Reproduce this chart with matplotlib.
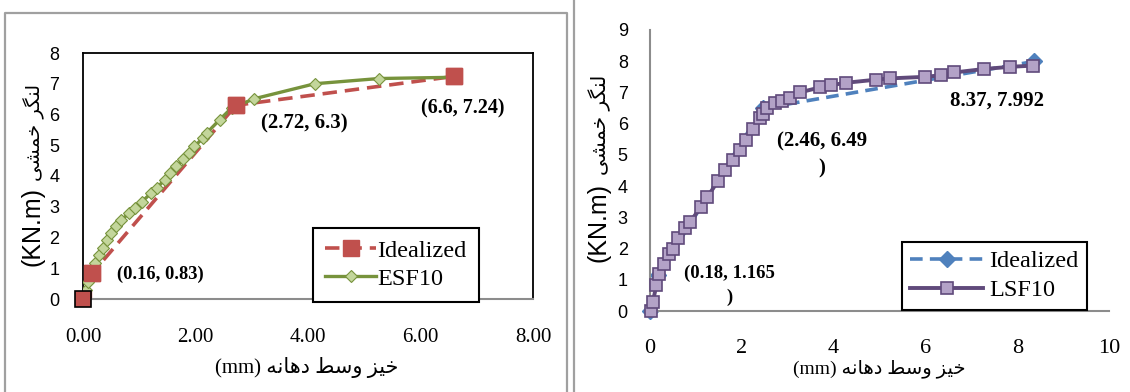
import matplotlib
matplotlib.use('Agg')
import matplotlib.pyplot as plt
from matplotlib.lines import Line2D

# ---- data ----
# left panel: ESF10
ideal_left_x = [0, 0.16, 2.72, 6.6]
ideal_left_y = [0, 0.83, 6.3, 7.24]
esf_x = [0.0, 0.02, 0.05, 0.09, 0.15, 0.22, 0.29, 0.35, 0.42, 0.50, 0.58, 0.68, 0.82,
         0.92, 1.05, 1.21, 1.31, 1.45, 1.55, 1.66, 1.78, 1.88, 1.98, 2.13, 2.20, 2.43,
         2.64, 3.04, 4.12, 5.26, 6.59]
esf_y = [0.0, 0.08, 0.29, 0.56, 0.84, 1.16, 1.43, 1.65, 1.92, 2.14, 2.36, 2.57, 2.79,
         2.95, 3.17, 3.44, 3.60, 3.88, 4.09, 4.31, 4.55, 4.74, 4.96, 5.23, 5.40, 5.83,
         6.21, 6.51, 7.00, 7.17, 7.21]

# right panel: LSF10
ideal_right_x = [0, 0.18, 2.46, 8.37]
ideal_right_y = [0, 1.165, 6.49, 7.992]
lsf_x = [0.02, 0.06, 0.14, 0.20, 0.31, 0.41, 0.51, 0.61, 0.76, 0.87, 1.11, 1.25, 1.48,
         1.64, 1.81, 1.95, 2.10, 2.24, 2.40, 2.46, 2.54, 2.73, 2.88, 3.06, 3.26, 3.70,
         3.94, 4.27, 4.93, 5.23, 5.99, 6.34, 6.63, 7.27, 7.84, 8.35]
lsf_y = [0.0, 0.29, 0.82, 1.18, 1.50, 1.84, 2.00, 2.34, 2.66, 2.85, 3.33, 3.65, 4.16,
         4.51, 4.83, 5.15, 5.49, 5.84, 6.19, 6.32, 6.49, 6.65, 6.73, 6.83, 7.00, 7.16,
         7.23, 7.31, 7.41, 7.45, 7.50, 7.55, 7.64, 7.75, 7.82, 7.86]

left_xticks = [0, 2, 4, 6, 8]
left_yticks = [0, 1, 2, 3, 4, 5, 6, 7, 8]
right_xticks = [0, 2, 4, 6, 8, 10]
right_yticks = [0, 1, 2, 3, 4, 5, 6, 7, 8, 9]

ylabel_fa = 'لنگر خمشی'
xlabel_fa = 'خیز وسط دهانه'

# minimal arabic/persian shaping (matplotlib has no text shaping)
FORMS = {
    'ل': '\uFEDD\uFEDE\uFEDF\uFEE0', 'ن': '\uFEE5\uFEE6\uFEE7\uFEE8',
    'گ': '\uFB92\uFB93\uFB94\uFB95', 'خ': '\uFEA5\uFEA6\uFEA7\uFEA8',
    'م': '\uFEE1\uFEE2\uFEE3\uFEE4', 'ش': '\uFEB5\uFEB6\uFEB7\uFEB8',
    'ی': '\uFBFC\uFBFD\uFBFE\uFBFF', 'س': '\uFEB1\uFEB2\uFEB3\uFEB4',
    'ط': '\uFEC1\uFEC2\uFEC3\uFEC4', 'ه': '\uFEE9\uFEEA\uFEEB\uFEEC',
    'ر': '\uFEAD\uFEAE', 'ز': '\uFEAF\uFEB0', 'و': '\uFEED\uFEEE',
    'د': '\uFEA9\uFEAA', 'ا': '\uFE8D\uFE8E',
}


def shape(text):
    out = []
    for i, ch in enumerate(text):
        if ch not in FORMS:
            out.append(ch)
            continue
        prev = text[i - 1] if i > 0 else ''
        nxt = text[i + 1] if i + 1 < len(text) else ''
        jp = prev in FORMS and len(FORMS[prev]) == 4
        jn = nxt in FORMS and len(FORMS[ch]) == 4
        f = FORMS[ch]
        if jp and jn:
            out.append(f[3])
        elif jp:
            out.append(f[1])
        elif jn:
            out.append(f[2])
        else:
            out.append(f[0])
    return ''.join(reversed(out))


serif = ['Liberation Serif', 'DejaVu Sans']
sans = ['Liberation Sans', 'DejaVu Sans']

red = '#C0504D'
green = '#77933C'
green_face = '#C3D69B'
blue = '#4F81BD'
purple = '#604A7B'
purple_face = '#B3A2C7'
axis_gray = '#8C8C8C'

W, H = 1130, 392
fig = plt.figure(figsize=(11.3, 3.92), dpi=100)


def ylabel_parts(xb, y_unit, y_fa, fs_unit, fs_fa):
    # rotated y label: latin unit and persian words drawn with their own sizes
    fig.text(xb / W, 1 - y_unit / H, '(KN.m)', family=sans, fontsize=fs_unit, rotation=90,
             rotation_mode='anchor', ha='center', va='baseline')
    fig.text(xb / W, 1 - y_fa / H, shape(ylabel_fa), family=['DejaVu Sans'], fontsize=fs_fa,
             rotation=90, rotation_mode='anchor', ha='center', va='baseline')


# outer frames
fig.add_artist(Line2D([5 / W, 5 / W, 567 / W, 567 / W], [0, 1 - 13 / H, 1 - 13 / H, 0],
                      color='#A0A0A0', lw=1.6, transform=fig.transFigure))
fig.add_artist(Line2D([573.5 / W, 573.5 / W], [0, 1],
                      color='#A0A0A0', lw=1.6, transform=fig.transFigure))

# ---- left panel ----
ax1 = fig.add_axes([83 / W, 1 - 299 / H, 450 / W, 246 / H])
ax1.plot(ideal_left_x, ideal_left_y, '--', color=red, lw=2.6, dashes=(4, 2.2),
         marker='s', ms=11, mfc=red, mec=red, label='Idealized', zorder=2)
ax1.plot(esf_x, esf_y, '-', color=green, lw=2.4, marker='D', ms=6,
         mfc=green_face, mec=green, mew=0.8, label='ESF10', zorder=3)
ax1.plot(ideal_left_x[1:], ideal_left_y[1:], 's', ms=11, color=red, zorder=4)
ax1.plot(ideal_left_x[:1], ideal_left_y[:1], 's', ms=11, mfc=red, mec='black',
         mew=1.2, zorder=4, clip_on=False)
ax1.set_xlim(0, 8)
ax1.set_ylim(0, 8)
ax1.set_xticks(left_xticks)
ax1.set_xticklabels(['{:.2f}'.format(v) for v in left_xticks], family=serif, fontsize=15)
ax1.set_yticks(left_yticks)
ax1.set_yticklabels([str(v) for v in left_yticks], family=sans, fontsize=13)
ax1.tick_params(axis='x', length=0, pad=21)
ax1.tick_params(axis='y', length=0, pad=17)
for s in ['top', 'right', 'left']:
    ax1.spines[s].set_color('black')
    ax1.spines[s].set_linewidth(1.3)
ax1.spines['bottom'].set_color(axis_gray)
ax1.spines['bottom'].set_linewidth(1.5)

ax1.text(0.61, 0.81, '(0.16, 0.83)', family=serif, weight='bold', fontsize=13.3, va='center')
ax1.text(3.17, 5.72, '(2.72, 6.3)', family=serif, weight='bold', fontsize=15, va='center')
ax1.text(6.01, 6.18, '(6.6, 7.24)', family=serif, weight='bold', fontsize=14.5, va='center')

ax1.set_xlabel('(mm) ' + shape(xlabel_fa), family=serif, fontsize=15)
ax1.xaxis.set_label_coords(0.498, -0.236)
ylabel_parts(40, 226, 132, 18, 14)

leg1 = ax1.legend(loc='lower left', bbox_to_anchor=(0.511, -0.012), prop={'family': serif, 'size': 17.5},
                  fancybox=False, edgecolor='black', framealpha=1, handlelength=2.1,
                  handletextpad=0.05, labelspacing=0.25, borderpad=0.5, borderaxespad=0)
leg1.get_frame().set_linewidth(1.5)
leg1.set_zorder(5)

# ---- right panel ----
ax2 = fig.add_axes([650 / W, 1 - 311 / H, 459 / W, 281 / H])
ax2.plot(ideal_right_x, ideal_right_y, '--', color=blue, lw=2.6, dashes=(3.5, 2),
         marker='D', ms=8, mfc=blue, mec=blue, label='Idealized', zorder=2, clip_on=False)
ax2.plot(lsf_x, lsf_y, '-', color=purple, lw=2.8, marker='s', ms=8,
         mfc=purple_face, mec=purple, mew=1.2, label='LSF10', zorder=3, clip_on=False)
ax2.set_xlim(0, 10)
ax2.set_ylim(0, 9)
ax2.set_xticks(right_xticks)
ax2.set_xticklabels([str(v) for v in right_xticks], family=serif, fontsize=16)
ax2.set_yticks(right_yticks)
ax2.set_yticklabels([str(v) for v in right_yticks], family=sans, fontsize=13)
ax2.tick_params(axis='x', length=0, pad=20)
ax2.tick_params(axis='y', length=0, pad=16)
ax2.spines['top'].set_visible(False)
ax2.spines['right'].set_visible(False)
for s in ['left', 'bottom']:
    ax2.spines[s].set_color(axis_gray)
    ax2.spines[s].set_linewidth(1.5)

ax2.text(1.73, 1.49, '(0.18, 1.165\n)', family=serif, weight='bold', fontsize=13.5,
         ha='center', va='top', linespacing=1.5)
ax2.text(3.74, 5.75, '(2.46, 6.49\n)', family=serif, weight='bold', fontsize=15,
         ha='center', va='top', linespacing=1.5)
ax2.text(6.53, 6.75, '8.37, 7.992', family=serif, weight='bold', fontsize=15, va='center')

ax2.set_xlabel('(mm) ' + shape(xlabel_fa), family=serif, fontsize=14)
ax2.xaxis.set_label_coords(0.5, -0.171)
ylabel_parts(606, 223, 125, 18, 14.5)

leg2 = ax2.legend(loc='lower left', bbox_to_anchor=(0.549, 0.004), prop={'family': serif, 'size': 17.5},
                  fancybox=False, edgecolor='black', framealpha=1, handlelength=3.0,
                  handletextpad=0.25, labelspacing=0.3, borderpad=0.35, borderaxespad=0)
leg2.get_frame().set_linewidth(1.5)
leg2.set_zorder(5)

fig.savefig('out.png', dpi=100)
